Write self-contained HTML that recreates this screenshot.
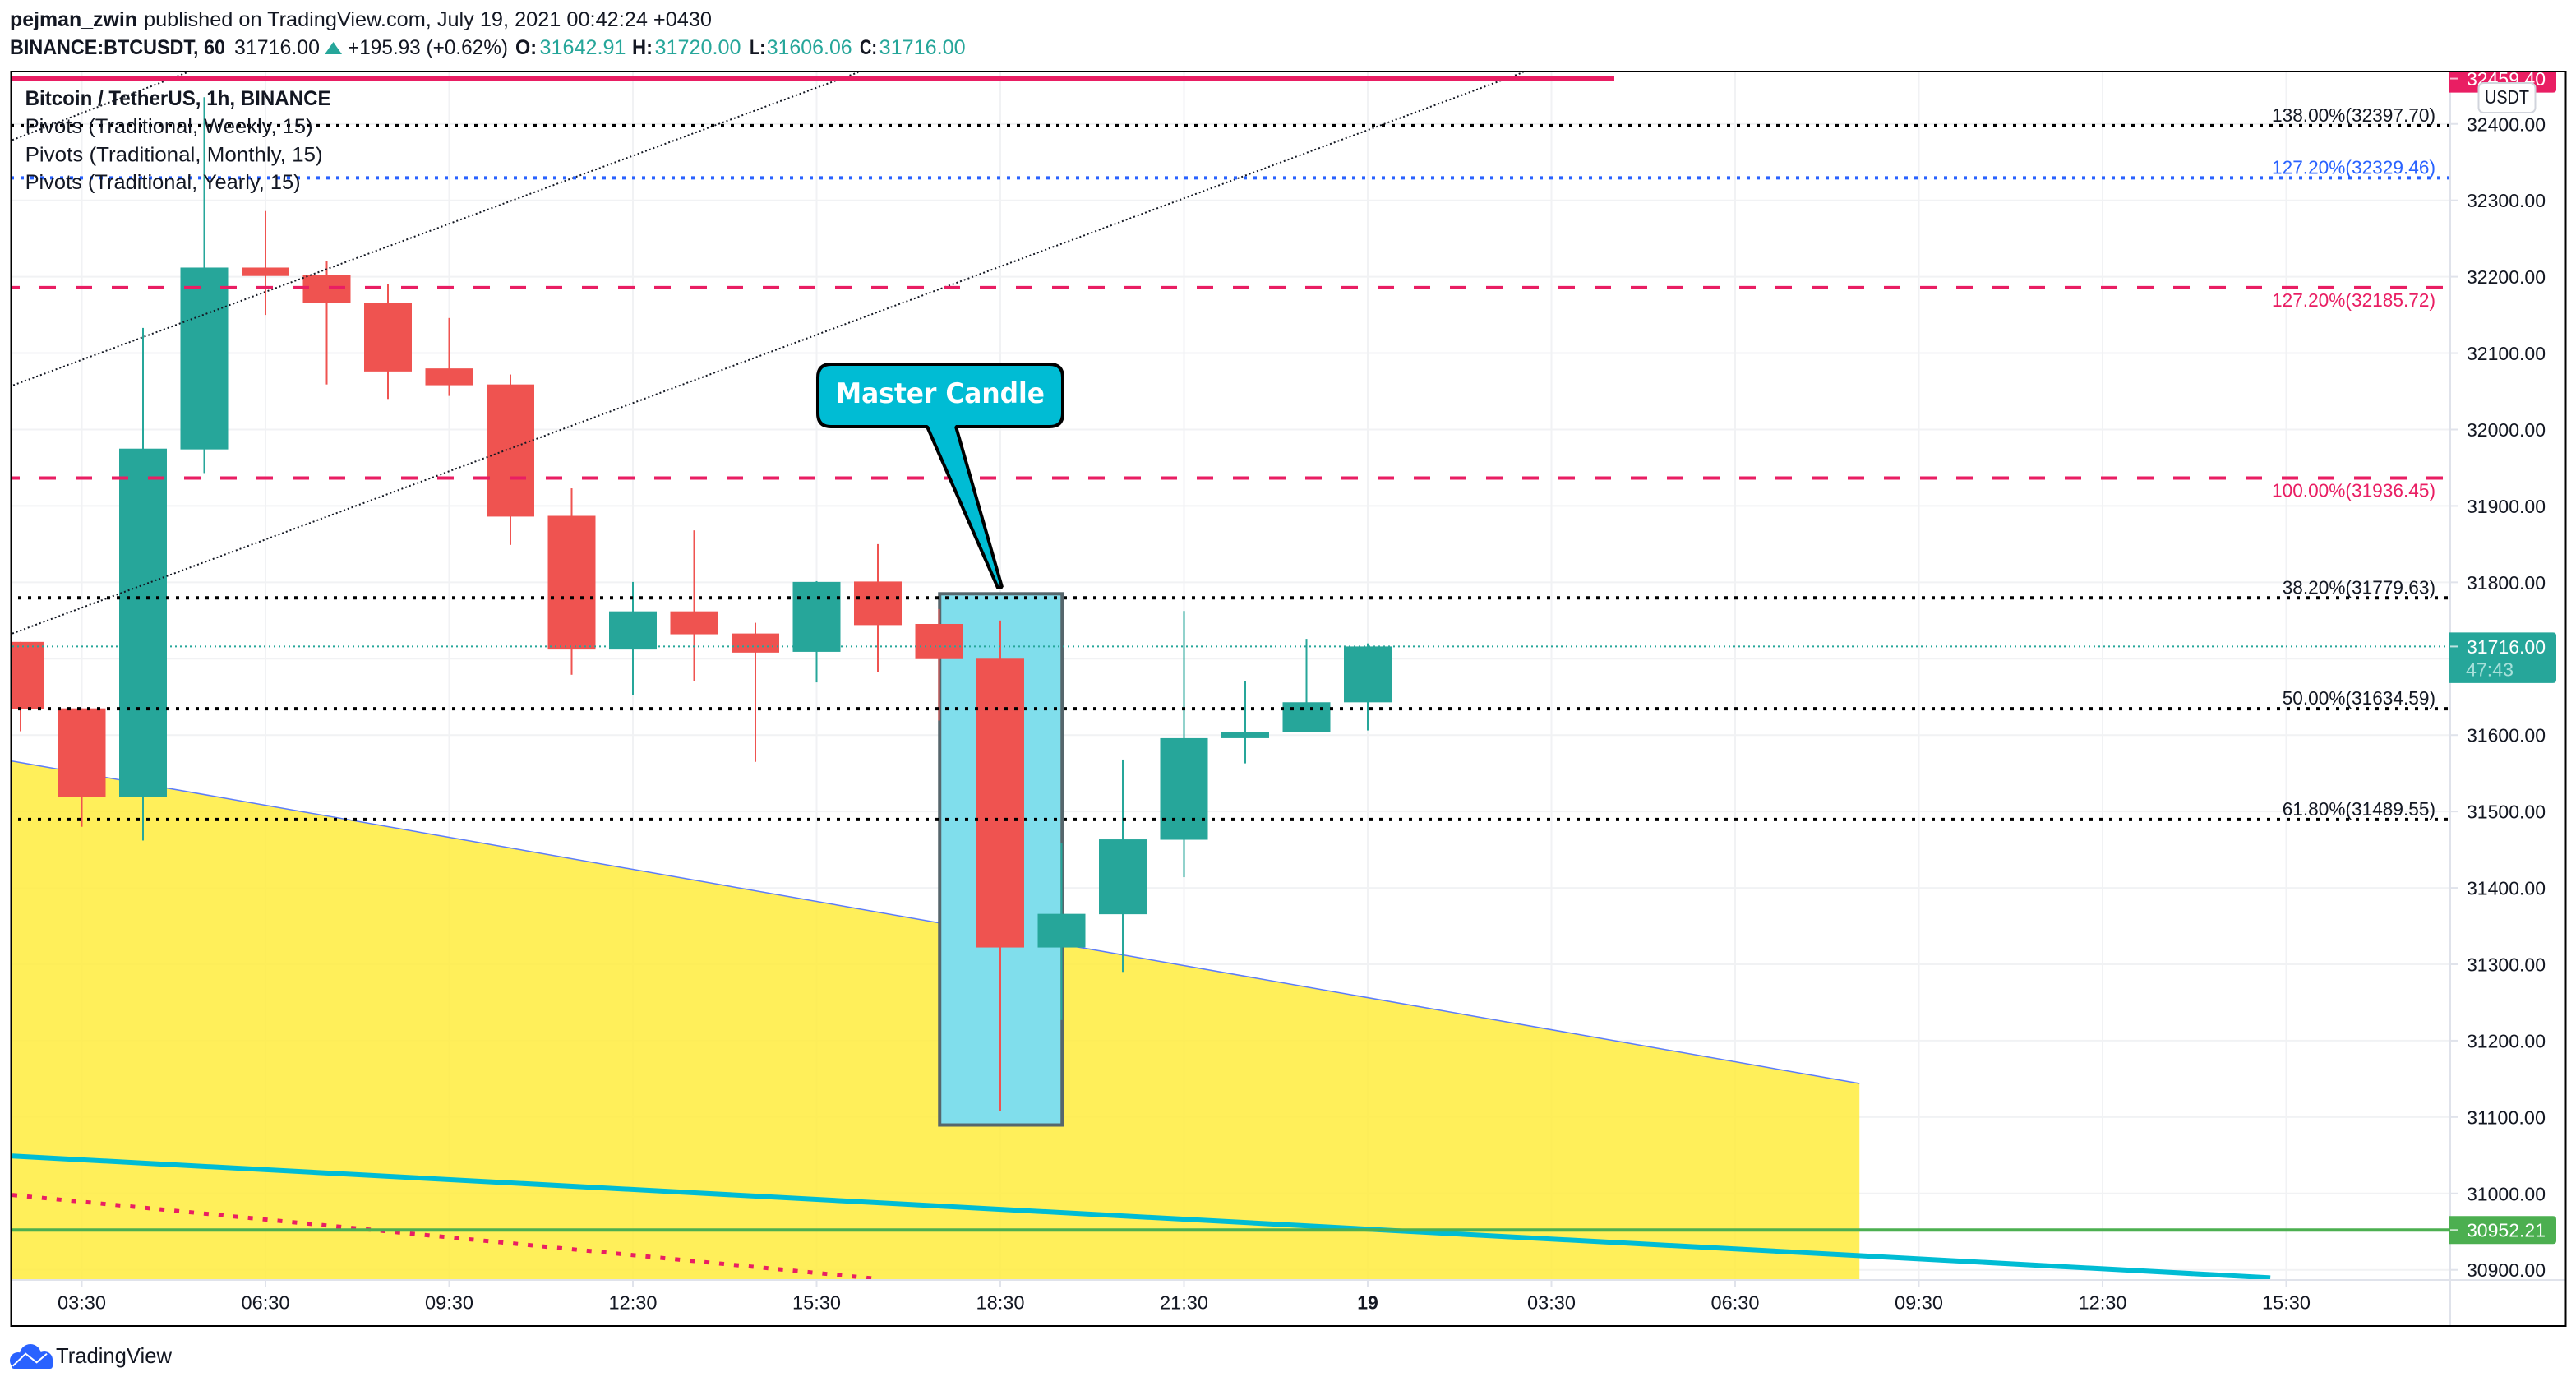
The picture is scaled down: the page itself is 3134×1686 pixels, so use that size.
<!DOCTYPE html>
<html lang="en">
<head>
<meta charset="utf-8">
<title>BTCUSDT 1h chart</title>
<style>
html,body{margin:0;padding:0;background:#fff;width:3134px;height:1686px;overflow:hidden}
svg{display:block}
text{font-family:"Liberation Sans",sans-serif;white-space:pre}
</style>
</head>
<body>
<svg id="chart" xmlns="http://www.w3.org/2000/svg" width="3134" height="1686" viewBox="0 0 3134 1686">
  <defs>
    <clipPath id="plot-clip"><rect x="15" y="88" width="2966" height="1468"/></clipPath>
    <clipPath id="axis-clip"><rect x="2980" y="88" width="141" height="1468"/></clipPath>
  </defs>
  <rect x="0" y="0" width="3134" height="1686" fill="#ffffff"/>

  <g font-size="25" fill="#131722">
    <text x="12" y="32" font-weight="700" textLength="155" lengthAdjust="spacingAndGlyphs">pejman_zwin</text>
    <text x="175" y="32" textLength="691" lengthAdjust="spacingAndGlyphs">published on TradingView.com, July 19, 2021 00:42:24 +0430</text>
    <text x="12" y="66" font-weight="700" textLength="262" lengthAdjust="spacingAndGlyphs">BINANCE:BTCUSDT, 60</text>
    <text x="285" y="66" textLength="104" lengthAdjust="spacingAndGlyphs">31716.00</text>
    <polygon points="395,66 416,66 405.5,51" fill="#26a69a"/>
    <text x="423" y="66" textLength="195" lengthAdjust="spacingAndGlyphs">+195.93 (+0.62%)</text>
    <text x="627" y="66" font-weight="700" textLength="26" lengthAdjust="spacingAndGlyphs">O:</text>
    <text x="656.5" y="66" fill="#26a69a" textLength="105" lengthAdjust="spacingAndGlyphs">31642.91</text>
    <text x="769" y="66" font-weight="700" textLength="25" lengthAdjust="spacingAndGlyphs">H:</text>
    <text x="796.5" y="66" fill="#26a69a" textLength="105" lengthAdjust="spacingAndGlyphs">31720.00</text>
    <text x="912" y="66" font-weight="700" textLength="19" lengthAdjust="spacingAndGlyphs">L:</text>
    <text x="932.7" y="66" fill="#26a69a" textLength="104" lengthAdjust="spacingAndGlyphs">31606.06</text>
    <text x="1046" y="66" font-weight="700" textLength="21" lengthAdjust="spacingAndGlyphs">C:</text>
    <text x="1069.6" y="66" fill="#26a69a" textLength="105" lengthAdjust="spacingAndGlyphs">31716.00</text>
  </g>

  <g id="grid" clip-path="url(#plot-clip)"></g>
  <g id="drawings-under" clip-path="url(#plot-clip)"></g>
  <g id="candles" clip-path="url(#plot-clip)"></g>
  <g id="drawings-over" clip-path="url(#plot-clip)"></g>

  <g>
    <path d="M1011 443 H1277 Q1293 443 1293 459 V503 Q1293 519 1277 519 H1163 L1219 714 L1214 715 L1128 519 H1011 Q995 519 995 503 V459 Q995 443 1011 443 Z" fill="#00bcd4" stroke="#000000" stroke-width="4" stroke-linejoin="bevel"/>
    <text x="1017" y="490" font-size="34" font-weight="700" fill="#ffffff" style="font-family:'DejaVu Sans','Liberation Sans',sans-serif" textLength="254" lengthAdjust="spacingAndGlyphs">Master Candle</text>
  </g>

  <g font-size="25" fill="#131722">
    <text x="30.6" y="128" font-weight="700" textLength="372" lengthAdjust="spacingAndGlyphs">Bitcoin / TetherUS, 1h, BINANCE</text>
    <text x="30.6" y="162" textLength="350" lengthAdjust="spacingAndGlyphs">Pivots (Traditional, Weekly, 15)</text>
    <text x="30.6" y="196.5" textLength="362" lengthAdjust="spacingAndGlyphs">Pivots (Traditional, Monthly, 15)</text>
    <text x="30.6" y="230" textLength="335" lengthAdjust="spacingAndGlyphs">Pivots (Traditional, Yearly, 15)</text>
  </g>

  <g id="price-axis"></g>
  <g id="time-axis"></g>
  <g id="price-tags"></g>

  <g>
    <rect x="3015.5" y="101" width="69" height="36" rx="6" fill="#ffffff" stroke="#d1d4dc" stroke-width="2"/>
    <text x="3023" y="126" font-size="23" fill="#131722" textLength="54" lengthAdjust="spacingAndGlyphs">USDT</text>
  </g>

  <rect x="13.5" y="87" width="3108" height="1526" fill="none" stroke="#000000" stroke-width="2"/>

  <g>
    <g fill="#2962ff">
      <circle cx="22" cy="1655" r="10"/>
      <circle cx="37" cy="1648" r="13"/>
      <circle cx="54" cy="1654" r="10"/>
      <rect x="14" y="1652" width="50" height="13" rx="3"/>
    </g>
    <polyline points="15.6,1661.7 31.2,1646.7 44.6,1657.3 57,1646.7" fill="none" stroke="#ffffff" stroke-width="2"/>
    <text x="68" y="1658" font-size="26" fill="#131722" textLength="141" lengthAdjust="spacingAndGlyphs">TradingView</text>
  </g>
</svg>

<script>
// ---- chart data ----
const hours = ['02:30','03:30','04:30','05:30','06:30','07:30','08:30','09:30','10:30','11:30','12:30','13:30','14:30','15:30','16:30','17:30','18:30','19:30','20:30','21:30','22:30','23:30','00:00'];
const opens  = [31722,31635,31519,31974,32212,32202,32166,32080,32059,31887,31712,31762,31733,31709,31801,31745.5,31700,31322,31365.5,31463,31596,31604,31642.91];
const highs  = [31722,31635,32133,32435,32286,32220.5,32190,32146,32072,31923,31800.5,31868,31747,31801.5,31850,31765,31750,31459,31568,31762.5,31671,31726,31720];
const lows   = [31605,31480,31462,31943,32150,32059,32040,32044,31849,31679,31652,31671,31565,31669,31683,31619,31108,31227,31290,31414,31563,31604,31606.06];
const closes = [31634,31519,31975,32212,32201,32166,32076,32058,31886,31712,31762,31732,31708,31800.5,31744,31699.5,31322,31366,31463.5,31596,31604.5,31643,31716];

const priceTicks = [32400,32300,32200,32100,32000,31900,31800,31700,31600,31500,31400,31300,31200,31100,31000,30900];
const timeTickBars = [1,4,7,10,13,16,19,22,25,28,31,34,37];
const timeTickLabels = ['03:30','06:30','09:30','12:30','15:30','18:30','21:30','19','03:30','06:30','09:30','12:30','15:30'];

const fibPrices = [32397.70,32329.46,32185.72,31936.45,31779.63,31634.59,31489.55];
const fibLabels = ['138.00%','127.20%','127.20%','100.00%','38.20%','50.00%','61.80%'];

const resistancePrice = 32459.40;
const supportPrice = 30952.21;
const lastPrice = 31716.00;
const countdown = '47:43';

// drawings, in bar / price units
const channelBarsStart = [-0.134,-0.12,-0.134];
const channelPricesStart = [31733,32058,32379];
const channelBarsEnd = [24.54,13.68,2.725];
const channelPricesEnd = [32467.6,32467.6,32467.6];
const wedgeBars = [-0.134,30.03];
const wedgePrices = [31566,31144];
const masterBars = [15.01,17.01];
const masterPrices = [31785,31089.6];
const tealBars = [-0.134,36.74];
const tealPrices = [31049,30889.6];
const pinkBars = [-0.134,13.9];
const pinkPrices = [30998,30889];

// ---- axis functions ----
function xOf(bar){ return 25 + 74.5 * bar; }
function yOf(price){ return 243.7 + (32300 - price) * 0.9293; }

const NS = 'http://www.w3.org/2000/svg';
function make(tag, attrs, parent){
  const n = document.createElementNS(NS, tag);
  for (const k in attrs) n.setAttribute(k, attrs[k]);
  parent.appendChild(n);
  return n;
}
const gridG = document.getElementById('grid');
const underG = document.getElementById('drawings-under');
const candleG = document.getElementById('candles');
const overG = document.getElementById('drawings-over');
const priceAxisG = document.getElementById('price-axis');
const timeAxisG = document.getElementById('time-axis');
const tagsG = document.getElementById('price-tags');
const PLOT_LEFT = 15, PLOT_RIGHT = 2981, PLOT_BOTTOM = 1557;

// grid + price axis
priceTicks.forEach(function(p){
  const y = yOf(p);
  const g = make('line', {x1:PLOT_LEFT, x2:PLOT_RIGHT, y1:y, y2:y, stroke:'#f1f2f4', 'stroke-width':2}, gridG);
  
  
  const t = make('line', {x1:PLOT_RIGHT, x2:2990, y1:y, y2:y, stroke:'#e0e3eb', 'stroke-width':2}, priceAxisG);
  
  
  const l = make('text', {x:3001, y:y+8.5, 'font-size':23, fill:'#131722', textLength:96, lengthAdjust:'spacingAndGlyphs'}, priceAxisG);
  l.textContent = p.toFixed(2);
  
  
});
const priceAxisLine = make('line', {x1:2981, x2:2981, y1:88, y2:1612, stroke:'#e0e3eb', 'stroke-width':2}, priceAxisG);



// grid + time axis
const timeAxisLine = make('line', {x1:15, x2:3121, y1:1557, y2:1557, stroke:'#e0e3eb', 'stroke-width':2}, timeAxisG);


timeTickBars.forEach(function(b, i){
  const x = xOf(b);
  const g = make('line', {x1:x, x2:x, y1:88, y2:PLOT_BOTTOM, stroke:'#f1f2f4', 'stroke-width':2}, gridG);
  
  
  const t = make('line', {x1:x, x2:x, y1:1557, y2:1566, stroke:'#e0e3eb', 'stroke-width':2}, timeAxisG);
  
  
  const label = timeTickLabels[i];
  const isDay = label.length < 3;
  const l = make('text', {x:x, y:1592.5, 'font-size':23, fill:'#131722', 'text-anchor':'middle', 'font-weight':isDay?700:400}, timeAxisG);
  if (!isDay) { l.setAttribute('textLength', 59); l.setAttribute('lengthAdjust', 'spacingAndGlyphs'); }
  l.textContent = label;
  
  
});

// yellow wedge
const wx0 = xOf(wedgeBars[0]), wx1 = xOf(wedgeBars[1]);
const wy0 = yOf(wedgePrices[0]), wy1 = yOf(wedgePrices[1]);
const wedge = make('polygon', {points: wx0+','+wy0+' '+wx1+','+wy1+' '+wx1+','+PLOT_BOTTOM+' '+wx0+','+PLOT_BOTTOM, fill:'#ffec3d', 'fill-opacity':0.85}, underG);


const wedgeEdge = make('line', {x1:wx0, y1:wy0, x2:wx1, y2:wy1, stroke:'#5c7cfa', 'stroke-width':1.5}, underG);



// master candle box
const box = make('rect', {x:xOf(masterBars[0]), y:yOf(masterPrices[0]), width:xOf(masterBars[1])-xOf(masterBars[0]), height:yOf(masterPrices[1])-yOf(masterPrices[0]), fill:'#80deec', stroke:'#56666c', 'stroke-width':4}, underG);



// candles
hours.forEach(function(h, i){
  const up = closes[i] >= opens[i];
  const color = up ? '#26a69a' : '#ef5350';
  const x = xOf(i);
  const wick = make('rect', {x:x-1, width:2, y:yOf(highs[i]), height:yOf(lows[i])-yOf(highs[i]), fill:color}, candleG);
  
  
  const top = yOf(Math.max(opens[i], closes[i]));
  const bot = yOf(Math.min(opens[i], closes[i]));
  const body = make('rect', {x:x-29, width:58, y:top, height:bot-top, fill:color}, candleG);
  
  
});

// channel trend lines
channelBarsStart.forEach(function(b, i){
  const c = make('line', {x1:xOf(b), y1:yOf(channelPricesStart[i]), x2:xOf(channelBarsEnd[i]), y2:yOf(channelPricesEnd[i]), stroke:'#131722', 'stroke-width':2, 'stroke-dasharray':'2 3'}, overG);
  
  
});

// thick teal and pink trend lines
const teal = make('line', {x1:xOf(tealBars[0]), y1:yOf(tealPrices[0]), x2:xOf(tealBars[1]), y2:yOf(tealPrices[1]), stroke:'#00bcd4', 'stroke-width':6}, overG);


const pink = make('line', {x1:xOf(pinkBars[0]), y1:yOf(pinkPrices[0]), x2:xOf(pinkBars[1]), y2:yOf(pinkPrices[1]), stroke:'#e91e63', 'stroke-width':5, 'stroke-dasharray':'6 12'}, overG);



// resistance + support + last price lines
const resist = make('line', {x1:15, x2:1964, y1:yOf(resistancePrice), y2:yOf(resistancePrice), stroke:'#e91e63', 'stroke-width':6}, overG);


const support = make('line', {x1:15, x2:2981, y1:yOf(supportPrice), y2:yOf(supportPrice), stroke:'#4caf50', 'stroke-width':4}, overG);


const lastLine = make('line', {x1:15, x2:2981, y1:yOf(lastPrice), y2:yOf(lastPrice), stroke:'#26a69a', 'stroke-width':2, 'stroke-dasharray':'2 4'}, overG);



// fib levels
const fibColors = ['#000000','#2962ff','#e91e63','#e91e63','#000000','#000000','#000000'];
const fibTextColors = ['#131722','#2962ff','#e91e63','#e91e63','#131722','#131722','#131722'];
const fibDash = ['4 8','4 8','20 24','20 24','4 8','4 8','4 8'];
const fibStart = [13,13,4,4,22,22,22];
const fibEnd = [2981,2981,2972,2972,2978,2978,2978];
const fibBelow = [false,false,true,true,false,false,false];
fibPrices.forEach(function(p, i){
  const y = yOf(p);
  const ln = make('line', {x1:fibStart[i], x2:fibEnd[i], y1:y, y2:y, stroke:fibColors[i], 'stroke-width':4, 'stroke-dasharray':fibDash[i]}, overG);
  
  
  const str = fibLabels[i] + '(' + p.toFixed(2) + ')';
  const w = str.length >= 17 ? 199 : 186.3;
  const t = make('text', {x:2963-w, y:fibBelow[i] ? y+23 : y-5, 'font-size':23, fill:fibTextColors[i], textLength:w, lengthAdjust:'spacingAndGlyphs'}, overG);
  t.textContent = str;
  
  
});

// price tags
function tagPath(top, bottom){
  return 'M2980 '+top+' H3106 Q3110 '+top+' 3110 '+(top+4)+' V'+(bottom-4)+' Q3110 '+bottom+' 3106 '+bottom+' H2980 Z';
}
const redTagClip = make('g', {'clip-path':'url(#axis-clip)'}, tagsG);


const redY = yOf(resistancePrice);
const redBox = make('path', {d:tagPath(redY-17, redY+17), fill:'#e91e63'}, redTagClip);


const redTick = make('line', {x1:2981, x2:2990, y1:redY, y2:redY, stroke:'#ffffff', 'stroke-opacity':0.7, 'stroke-width':2}, redTagClip);


const redText = make('text', {x:3001, y:redY+8.5, 'font-size':23, fill:'#ffffff', textLength:96, lengthAdjust:'spacingAndGlyphs'}, redTagClip);
redText.textContent = resistancePrice.toFixed(2);



const lastY = yOf(lastPrice);
const lastBox = make('path', {d:tagPath(lastY-17, lastY+44.5), fill:'#26a69a'}, tagsG);


const lastTick = make('line', {x1:2981, x2:2990, y1:lastY, y2:lastY, stroke:'#ffffff', 'stroke-opacity':0.7, 'stroke-width':2}, tagsG);


const lastText = make('text', {x:3001, y:lastY+8.5, 'font-size':23, fill:'#ffffff', textLength:96, lengthAdjust:'spacingAndGlyphs'}, tagsG);
lastText.textContent = lastPrice.toFixed(2);


const cdText = make('text', {x:3000, y:lastY+36, 'font-size':23, fill:'#a8e0da', textLength:58, lengthAdjust:'spacingAndGlyphs'}, tagsG);
cdText.textContent = countdown;



const supY = yOf(supportPrice);
const supBox = make('path', {d:tagPath(supY-17, supY+17), fill:'#4caf50'}, tagsG);


const supTick = make('line', {x1:2981, x2:2990, y1:supY, y2:supY, stroke:'#ffffff', 'stroke-opacity':0.7, 'stroke-width':2}, tagsG);


const supText = make('text', {x:3001, y:supY+8.5, 'font-size':23, fill:'#ffffff', textLength:96, lengthAdjust:'spacingAndGlyphs'}, tagsG);
supText.textContent = supportPrice.toFixed(2);


</script>
</body>
</html>
